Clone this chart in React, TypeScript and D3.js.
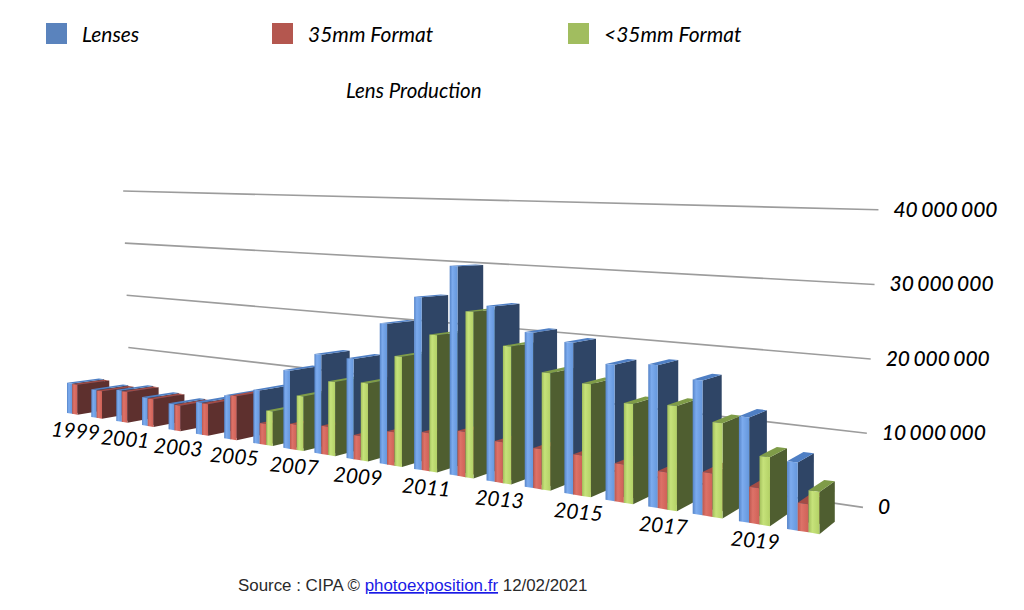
import React from "react";
import * as d3 from "d3";

const years = [1999, 2000, 2001, 2002, 2003, 2004, 2005, 2006, 2007, 2008, 2009, 2010, 2011, 2012, 2013, 2014, 2015, 2016, 2017, 2018, 2019, 2020];
// millions of units
const lenses = [5.3, 4.8, 5.3, 4.7, 4.3, 5.2, 6.9, 8.4, 12.1, 15.1, 15.0, 20.7, 25.0, 29.8, 24.5, 21.3, 20.4, 18.0, 18.5, 17.1, 13.1, 8.3];
const format35 = [5.2, 4.7, 5.2, 4.6, 4.2, 5.1, 7.0, 3.3, 3.9, 4.3, 3.6, 4.9, 5.5, 6.4, 5.7, 5.5, 5.4, 5.0, 4.8, 5.5, 4.5, 3.4];
const formatSmall = [0, 0, 0, 0, 0, 0, 0, 5.4, 8.4, 11.2, 11.6, 16.1, 19.7, 23.5, 19.1, 16.0, 15.1, 13.1, 13.5, 12.0, 8.5, 5.1];
const seriesNames = ["Lenses", "35mm Format", "<35mm Format"];
const seriesValues = [lenses, format35, formatSmall];
const ticks = [0, 10, 20, 30, 40];
const tickLabels = ["0", "10 000 000", "20 000 000", "30 000 000", "40 000 000"];
const labelYears = [1999, 2001, 2003, 2005, 2007, 2009, 2011, 2013, 2015, 2017, 2019];

const palette = [
    { legend: "#5a83bd", light: "#7cabee", mid: "#6597dc", edge: "#5684c8", side: "#2f4566", top: "#4f7fc4" },
    { legend: "#b4574f", light: "#dd7268", mid: "#cf6157", edge: "#bd5850", side: "#5e302e", top: "#a34b45" },
    { legend: "#a1bd5f", light: "#c6e27a", mid: "#b3d166", edge: "#a2bf5b", side: "#4f5e30", top: "#7f9c48" },
];
const legendX = [46, 272, 568];

// perspective: u = position along the years, d = depth of a bar (0 front, 1 back), v = value
const perspU = -0.01438;
const perspD = 0.029;
const originX = 67;
const originY = 413;
const stepX = 22.97;
const stepY = -2.086;
const vanishX = 1200;
const vanishY = 230;
const wallDepth = 2.528;

const heightScale = d3.scaleLinear().domain([0, 40]).range([0, 228]);
const uScale = d3.scaleLinear().domain([1999, 2020]).range([0, 21]);
const barBand = d3.scaleBand<number>().domain([0, 1, 2]).range([0, 0.65]);

function project(u: number, d: number, v: number): [number, number] {
    const w = 1 + perspU * u + perspD * d;
    const x = (originX + stepX * u + vanishX * perspD * d) / w;
    const y = (originY + stepY * u + vanishY * perspD * d - heightScale(v)) / w;
    return [x, y];
}

const poly = d3.line<[number, number]>().curve(d3.curveLinearClosed);
const font = "Lato, 'Open Sans', sans-serif";

export default function App() {
    const bars: React.ReactNode[] = [];
    years.forEach((year, i) => {
        seriesValues.forEach((values, s) => {
            const v = values[i];
            if (!v) return;
            const u0 = uScale(year) + barBand(s)!;
            const u1 = u0 + barBand.bandwidth();
            const c = palette[s];
            const front = poly([project(u0, 0, 0), project(u1, 0, 0), project(u1, 0, v), project(u0, 0, v)])!;
            const side = poly([project(u1, 0, 0), project(u1, 1, 0), project(u1, 1, v), project(u1, 0, v)])!;
            const top = poly([project(u0, 0, v), project(u1, 0, v), project(u1, 1, v), project(u0, 1, v)])!;
            bars.push(
                <g key={`${year}-${s}`}>
                    <path d={side} fill={c.side} />
                    <path d={top} fill={c.top} />
                    <path d={front} fill={`url(#front${s})`} />
                </g>
            );
        });
    });

    return (
        <svg width={1024} height={610} style={{ position: "absolute", left: 0, top: 0, background: "#fff" }}>
            <defs>
                {palette.map((c, s) => (
                    <linearGradient key={s} id={`front${s}`} x1="0" x2="1" y1="0" y2="0">
                        <stop offset="0" stopColor={c.edge} />
                        <stop offset="0.35" stopColor={c.light} />
                        <stop offset="1" stopColor={c.mid} />
                    </linearGradient>
                ))}
            </defs>

            {seriesNames.map((name, s) => (
                <g key={name}>
                    <rect x={legendX[s]} y={23} width={21} height={21} fill={palette[s].legend} />
                    <text x={legendX[s] + 36} y={42} fontFamily={font} fontStyle="italic" fontSize={21} fill="#000">
                        {name}
                    </text>
                </g>
            ))}
            <text x={346} y={98} fontFamily={font} fontStyle="italic" fontSize={20.5} fill="#000">
                Lens Production
            </text>

            {ticks.map((t, i) => {
                const lean = t / 40;
                const [x0, y0] = project(-0.62 - 0.3 * lean, wallDepth, t);
                const [x1, y1] = project(21.8 + 0.33 * lean, wallDepth, t);
                const drop = 1.5 + 2 * lean;
                return (
                    <g key={t}>
                        <line x1={x0} y1={y0 + drop} x2={x1} y2={y1 + drop} stroke="#9c9c9c" strokeWidth={1.6} />
                        <text
                            x={x1 + 15}
                            y={y1 + drop + 7}
                            fontFamily={font}
                            fontStyle="italic"
                            fontSize={21}
                            fontWeight={500}
                            wordSpacing={-1.5}
                            fill="#000"
                        >
                            {tickLabels[i]}
                        </text>
                    </g>
                );
            })}

            {bars}

            {labelYears.map((year) => {
                const u = uScale(year);
                const [x, y] = project(u + 0.33, 0, 0);
                return (
                    <text
                        key={year}
                        transform={`translate(${x},${y + 24}) rotate(5)`}
                        textAnchor="middle"
                        fontFamily={font}
                        fontStyle="italic"
                        fontSize={21}
                        fill="#000"
                    >
                        {year}
                    </text>
                );
            })}

            <text x={238} y={591} fontFamily="'Liberation Sans', Arial, sans-serif" fontSize={16.9} fill="#2a2a2a">
                Source : CIPA ©{" "}
                <tspan fill="#1a1ae6" textDecoration="underline">photoexposition.fr</tspan>{" "}
                12/02/2021
            </text>
        </svg>
    );
}
